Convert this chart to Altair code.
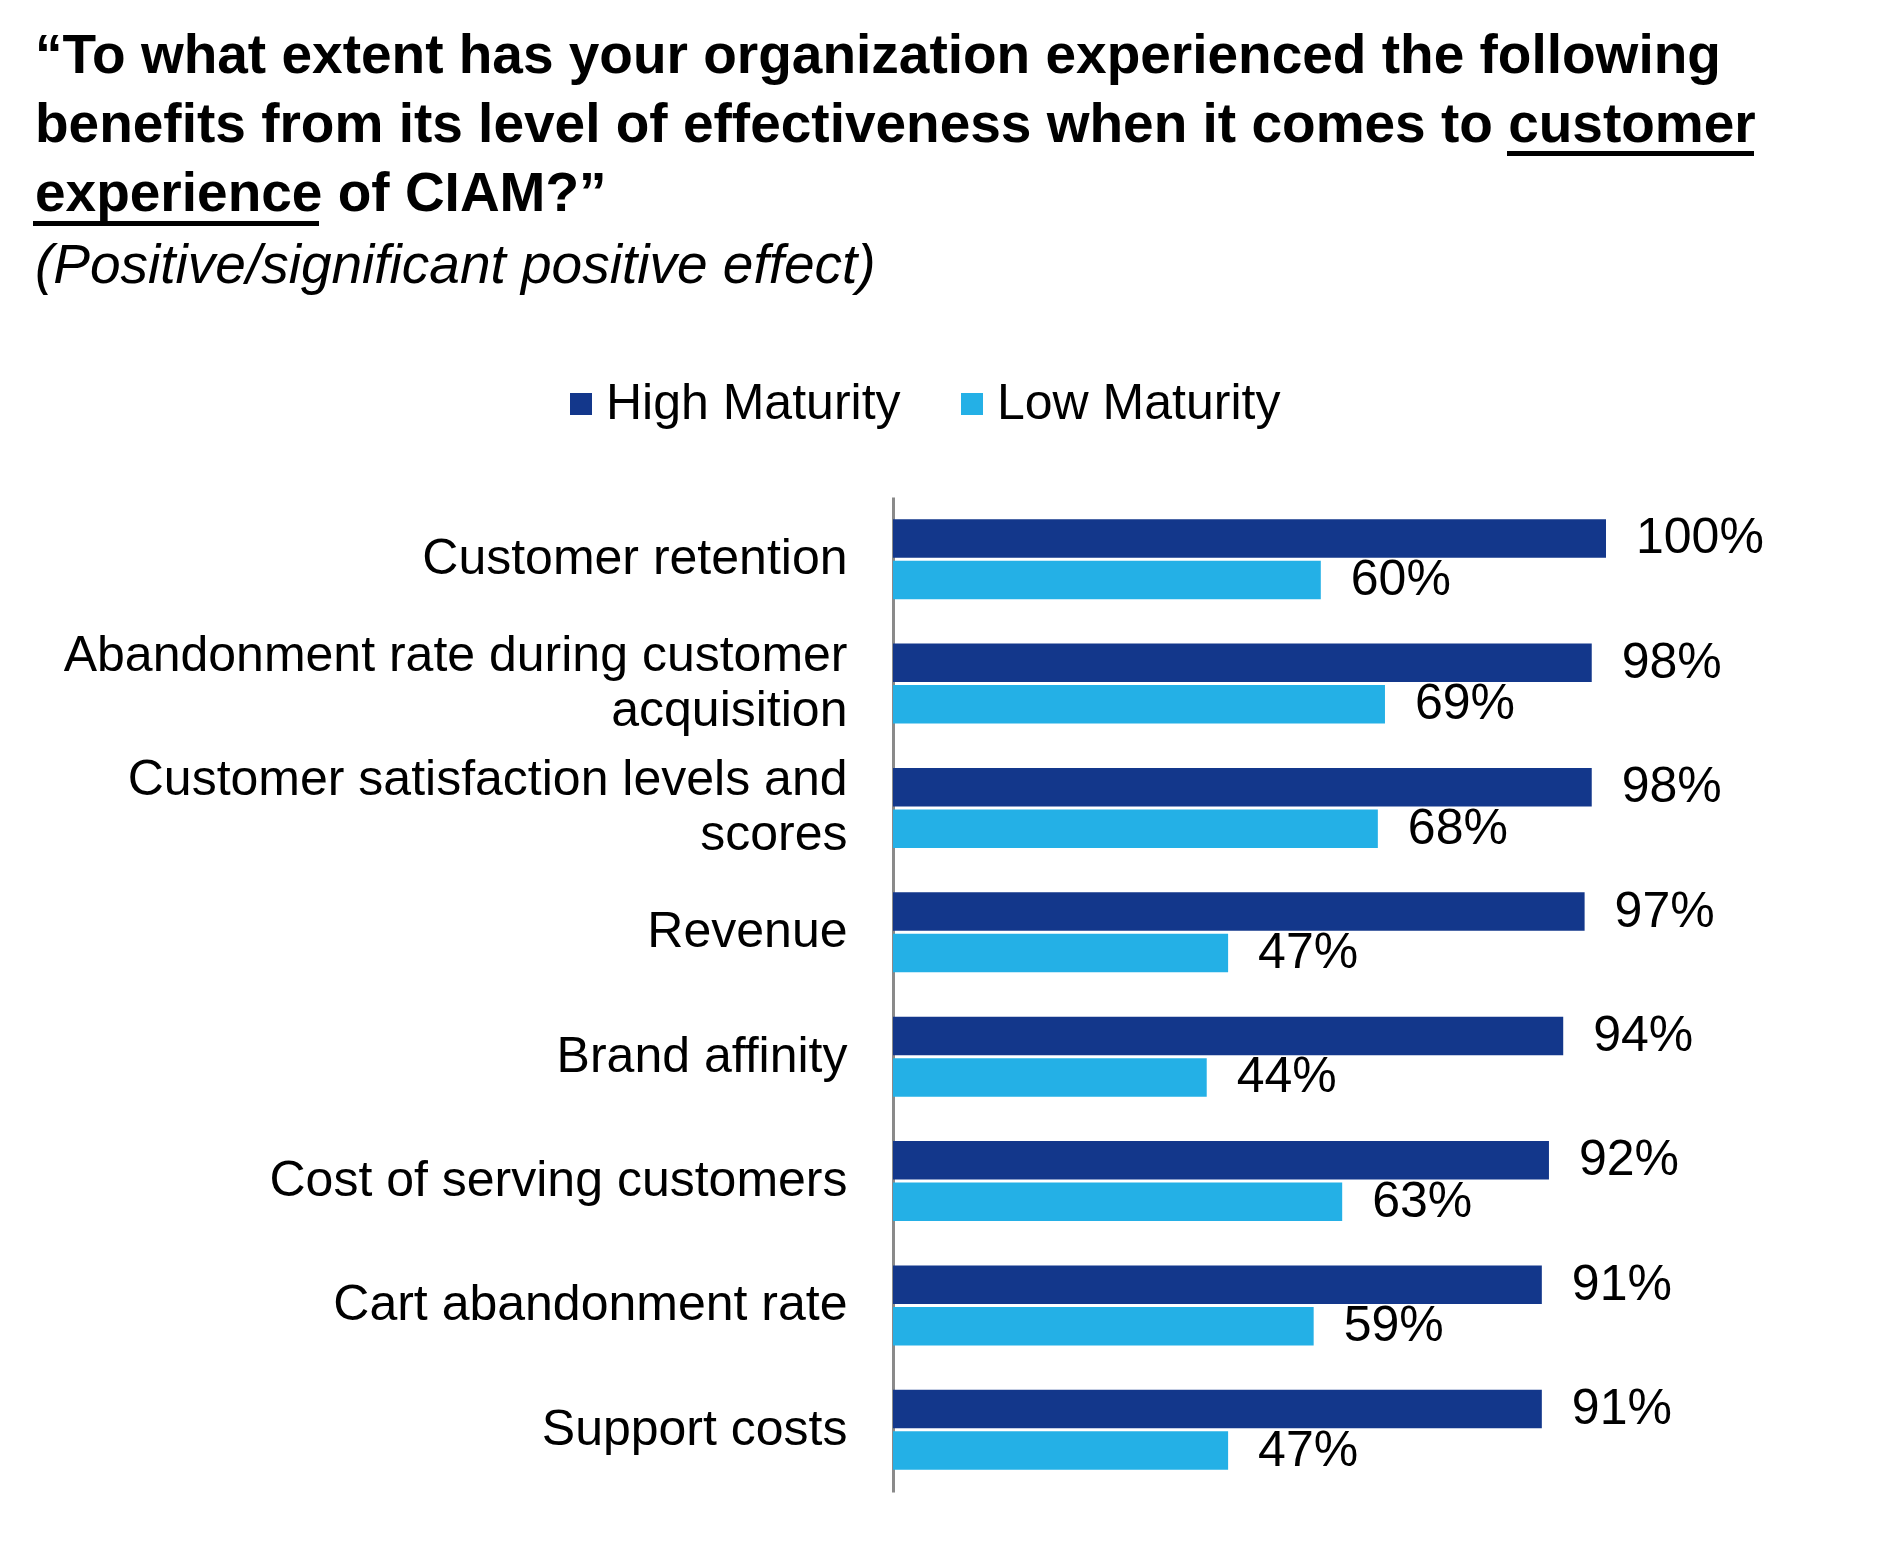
import altair as alt
import pandas as pd

# ---- data ----
categories = [
    "Customer retention",
    "Abandonment rate during customer\nacquisition",
    "Customer satisfaction levels and\nscores",
    "Revenue",
    "Brand affinity",
    "Cost of serving customers",
    "Cart abandonment rate",
    "Support costs",
]
series = ["High Maturity", "Low Maturity"]
high_maturity = [100, 98, 98, 97, 94, 92, 91, 91]
low_maturity = [60, 69, 68, 47, 44, 63, 59, 47]

title_lines = [
    "\u201cTo what extent has your organization experienced the following",
    "benefits from its level of effectiveness when it comes to customer",
    "experience of CIAM?\u201d",
]
subtitle_text = "(Positive/significant positive effect)"

colors = ["#13378B", "#24B0E6"]
FONT = "Liberation Sans"

rows = []
for c, h, l in zip(categories, high_maturity, low_maturity):
    rows.append({"category": c, "series": series[0], "value": h})
    rows.append({"category": c, "series": series[1], "value": l})
df = pd.DataFrame(rows)

y_enc = alt.Y(
    "category:N",
    sort=categories,
    scale=alt.Scale(paddingInner=0, paddingOuter=0),
    axis=alt.Axis(
        title=None,
        ticks=False,
        grid=False,
        domainColor="#8A8A8A",
        domainWidth=3,
        labelFontSize=50,
        labelFont=FONT,
        labelColor="black",
        labelPadding=46,
        labelLimit=1200,
        labelLineHeight=55,
        labelBaseline="middle",
        labelOffset={
            "condition": {"test": "indexof(datum.label, '\\n') >= 0", "value": -27.5},
            "value": 0,
        },
        labelExpr="split(datum.label, '\\n')",
    ),
)
yoff_enc = alt.YOffset(
    "series:N", sort=series, scale=alt.Scale(paddingInner=0.072, paddingOuter=0.535)
)
x_enc = alt.X("value:Q", scale=alt.Scale(domain=[0, 100], nice=False), axis=None)

base = alt.Chart(df)

bars = base.mark_bar().encode(
    x=x_enc,
    y=y_enc,
    yOffset=yoff_enc,
    color=alt.Color(
        "series:N",
        sort=series,
        scale=alt.Scale(domain=series, range=colors),
        legend=alt.Legend(
            orient="none",
            legendX=-337,
            legendY=-118,
            direction="horizontal",
            title=None,
            labelFontSize=50,
            labelFont=FONT,
            labelColor="black",
            labelLimit=600,
            symbolType="square",
            symbolSize=484,
            symbolStrokeWidth=0,
            symbolOpacity=1,
            labelOffset=0,
            columnPadding=46,
        ),
    ),
)

labels = base.transform_calculate(lbl="datum.value + '%'").mark_text(
    align="left", baseline="middle", dx=30, fontSize=50, font=FONT, color="black"
).encode(
    x=x_enc,
    y=y_enc,
    yOffset=yoff_enc,
    text="lbl:N",
)

one = pd.DataFrame({"k": [0]})

title_layer = alt.Chart(one).mark_text(
    align="left", baseline="alphabetic", fontSize=55, fontWeight="bold",
    font=FONT, color="black", lineHeight=69,
).encode(x=alt.value(-858), y=alt.value(-424), text=alt.value(title_lines))

subtitle_layer = alt.Chart(one).mark_text(
    align="left", baseline="alphabetic", fontSize=55, fontStyle="italic",
    font=FONT, color="black",
).encode(x=alt.value(-858), y=alt.value(-214), text=alt.value(subtitle_text))

underline1 = alt.Chart(one).mark_rule(color="black", strokeWidth=5).encode(
    x=alt.value(614), x2=alt.value(861), y=alt.value(-343.5)
)
underline2 = alt.Chart(one).mark_rule(color="black", strokeWidth=5).encode(
    x=alt.value(-860), x2=alt.value(-574), y=alt.value(-273.5)
)

chart = (
    alt.layer(bars, labels, title_layer, subtitle_layer, underline1, underline2)
    .properties(
        width=713,
        height=995,
        padding={"left": 885, "top": 489, "right": 180, "bottom": 40},
        autosize=alt.AutoSizeParams(type="none"),
    )
    .configure(font=FONT)
    .configure_view(strokeWidth=0, stroke="transparent")
)

chart.save("out.html", embed_options={"renderer": "svg", "actions": False})
